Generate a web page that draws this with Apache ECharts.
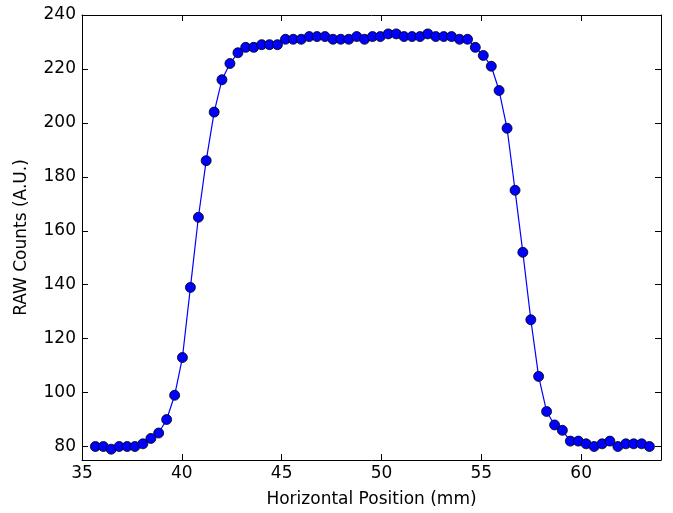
<!DOCTYPE html>
<html>
<head>
<meta charset="utf-8">
<script src="https://cdn.jsdelivr.net/npm/echarts@6/dist/echarts.min.js"></script>
<style>
  html, body { margin: 0; padding: 0; background: #fff; }
  #raw-counts { width: 673px; height: 513px; }
</style>
</head>
<body>
<div id="raw-counts"></div>
<script>
// positions along the scan (mm)
var positions = [
    35.67, 36.07, 36.46, 36.86, 37.26, 37.65, 38.05, 38.45, 38.84, 39.24,
    39.64, 40.03, 40.43, 40.83, 41.22, 41.62, 42.01, 42.41, 42.81, 43.20,
    43.60, 44.00, 44.39, 44.79, 45.19, 45.58, 45.98, 46.38, 46.77, 47.17,
    47.57, 47.96, 48.36, 48.76, 49.15, 49.55, 49.94, 50.34, 50.74, 51.13,
    51.53, 51.93, 52.32, 52.72, 53.12, 53.51, 53.91, 54.31, 54.70, 55.10,
    55.50, 55.89, 56.29, 56.69, 57.08, 57.48, 57.87, 58.27, 58.67, 59.06,
    59.46, 59.86, 60.25, 60.65, 61.05, 61.44, 61.84, 62.24, 62.63, 63.03,
    63.42
];
// raw counts read at each position
var rawCounts = [
    80, 80, 79, 80, 80, 80, 81, 83, 85, 90,
    99, 113, 139, 165, 186, 204, 216, 222, 226, 228,
    228, 229, 229, 229, 231, 231, 231, 232, 232, 232,
    231, 231, 231, 232, 231, 232, 232, 233, 233, 232,
    232, 232, 233, 232, 232, 232, 231, 231, 228, 225,
    221, 212, 198, 175, 152, 127, 106, 93, 88, 86,
    82, 82, 81, 80, 81, 82, 80, 81, 81, 81,
    80
];
var xTicks = [35, 40, 45, 50, 55, 60];
var yTicks = [80, 100, 120, 140, 160, 180, 200, 220, 240];

function rawCountsChart() {
    var chart = echarts.init(document.getElementById('raw-counts'));

    var points = positions.map((x, i) => [x, rawCounts[i]]);
    var font = 'DejaVu Sans';

    function xAxisOf(pos, labels) {
        return {
            type: 'value',
            position: pos,
            min: 35,
            max: 64,
            name: labels ? 'Horizontal Position (mm)' : '',
            nameLocation: 'middle',
            nameGap: 31,
            nameTextStyle: { fontFamily: font, fontSize: 17, color: '#000' },
            splitLine: { show: false },
            axisLine: { show: true, onZero: false, lineStyle: { color: '#000', width: 1 } },
            axisTick: { show: true, inside: true, length: 6, customValues: xTicks, lineStyle: { color: '#000' } },
            axisLabel: { show: labels, customValues: xTicks, margin: 5, fontFamily: font, fontSize: 17, color: '#000' }
        };
    }
    function yAxisOf(pos, labels) {
        return {
            type: 'value',
            position: pos,
            min: 75,
            max: 240,
            name: labels ? 'RAW Counts (A.U.)' : '',
            nameLocation: 'middle',
            nameGap: 52,
            nameRotate: 90,
            nameTextStyle: { fontFamily: font, fontSize: 17, color: '#000' },
            splitLine: { show: false },
            axisLine: { show: true, onZero: false, lineStyle: { color: '#000', width: 1 } },
            axisTick: { show: true, inside: true, length: 6, customValues: yTicks, lineStyle: { color: '#000' } },
            axisLabel: { show: labels, customValues: yTicks, margin: 6, fontFamily: font, fontSize: 17, color: '#000' }
        };
    }

    var option = {
        animation: false,
        backgroundColor: '#fff',
        grid: { left: 82, right: 12, top: 15, bottom: 53 },
        xAxis: [xAxisOf('bottom', true), xAxisOf('top', false)],
        yAxis: [yAxisOf('left', true), yAxisOf('right', false)],
        series: [
            {
                type: 'line',
                data: points,
                symbol: 'circle',
                symbolSize: 10,
                showAllSymbol: true,
                lineStyle: { color: '#0000ff', width: 1.2 },
                itemStyle: { color: '#0000ff', borderColor: '#000', borderWidth: 0.8 }
            }
        ]
    };
    option && chart.setOption(option);
}
rawCountsChart();
</script>
</body>
</html>
